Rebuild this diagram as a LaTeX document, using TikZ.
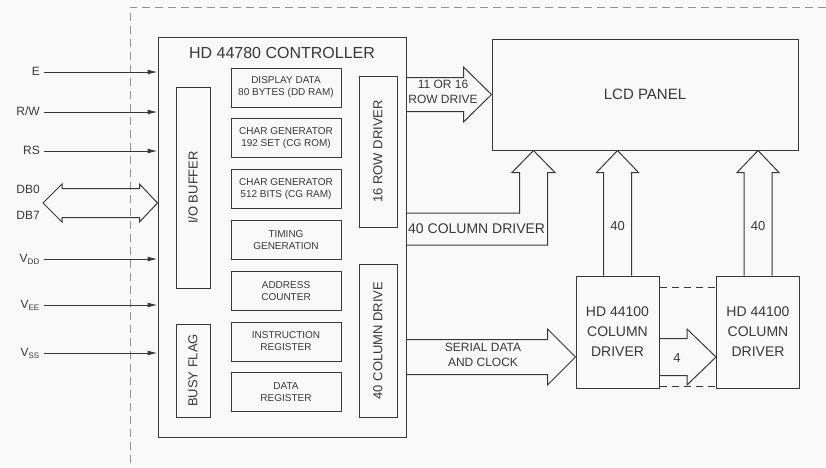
\documentclass[tikz,border=0pt]{standalone}
\usepackage{fontspec}
\setmainfont{Liberation Sans}
\usetikzlibrary{calc,arrows.meta}
\definecolor{ink}{gray}{0.22}
\definecolor{paper}{gray}{0.975}
\tikzset{
  blk/.style={draw=ink,line width=1pt,rectangle,minimum width=110pt,minimum height=39pt,inner sep=0pt,align=center,font=\fontsize{10}{12}\selectfont},
  vblk/.style={draw=ink,line width=1pt,rectangle,rotate=90,inner sep=0pt,font=\fontsize{13}{15}\selectfont},
  drv/.style={draw=ink,line width=1pt,rectangle,minimum width=83pt,minimum height=112pt,inner sep=0pt,align=center,font=\fontsize{14}{20}\selectfont},
  sig/.style={anchor=east,inner sep=0pt,text height=9pt,text depth=2pt,font=\fontsize{12}{14}\selectfont},
  sigarrow/.style={draw=ink,line width=1pt,-{Latex[length=10pt,width=5pt]}},
  fat/.style={draw=ink,line width=1pt,line join=miter},
  lbl/.style={inner sep=0pt,align=center,text=ink}
}
\begin{document}
\begin{tikzpicture}[x=1pt,y=-1pt,every node/.style={text=ink}]
\fill[paper] (0,0) rectangle (826,467);
\useasboundingbox (0,0) rectangle (826,467);
% outer frame
\draw[ink!55,dash pattern=on 8pt off 5pt] (826,7) -- (130,7) -- (130,467);

% controller
\node[draw=ink,line width=1pt,minimum width=248pt,minimum height=400pt,inner sep=0pt] (ctrl) at (282,237) {};
\node[lbl,font=\fontsize{16}{18}\selectfont] (ctrltitle) at (282,53) {HD 44780 CONTROLLER};

\node[blk] (ddram) at (286,87.5) {DISPLAY DATA\\80 BYTES (DD RAM)};
\node[blk] (cgrom) at (286,138.3) {CHAR GENERATOR\\192 SET (CG ROM)};
\node[blk] (cgram) at (286,189.1) {CHAR GENERATOR\\512 BITS (CG RAM)};
\node[blk] (timing) at (286,239.9) {TIMING\\GENERATION};
\node[blk] (addr) at (286,290.7) {ADDRESS\\COUNTER};
\node[blk] (instr) at (286,341.5) {INSTRUCTION\\REGISTER};
\node[blk] (datareg) at (286,392.3) {DATA\\REGISTER};

\node[vblk,minimum width=201pt,minimum height=34pt] (iobuf) at (193,187.5) {I/O BUFFER};
\node[vblk,minimum width=93pt,minimum height=34pt] (busy) at (193,370.5) {BUSY FLAG};
\node[vblk,minimum width=151pt,minimum height=38pt] (rowdrv) at (378,151.5) {16 ROW DRIVER};
\node[vblk,minimum width=153pt,minimum height=38pt] (coldrv) at (378,340.5) {40 COLUMN DRIVE};

% panel and column drivers
\node[draw=ink,line width=1pt,minimum width=306pt,minimum height=111pt,font=\fontsize{15}{17}\selectfont] (lcd) at (645,94.5) {LCD PANEL};
\node[drv] (hdA) at (617.5,332) {HD 44100\\COLUMN\\DRIVER};
\node[drv] (hdB) at (758,332) {HD 44100\\COLUMN\\DRIVER};

% pins
\node[sig] (e) at (40,72) {E};
\node[sig] (rw) at (40,112) {R/W};
\node[sig] (rs) at (40,151) {RS};
\node[sig] (db0) at (40,190) {DB0};
\node[sig] (db7) at (40,216) {DB7};
\node[sig] (vdd) at (40,259) {V\textsubscript{DD}};
\node[sig] (vee) at (40,305) {V\textsubscript{EE}};
\node[sig] (vss) at (40,353) {V\textsubscript{SS}};
\foreach \s in {e,rw,rs,vdd,vee,vss}
  \draw[sigarrow] ($(\s.east)+(4,0)$) -- (\s.east -| ctrl.west);

% data bus
\coordinate (dbtip) at ($(db0.east)!0.5!(db7.east)+(3,0)$);
\draw[fat] (dbtip) -- ++(19,-19) -- ++(0,4.5) -- ($(dbtip -| ctrl.west)+(-18,-14.5)$) -- ++(0,-4.5)
  -- (dbtip -| ctrl.west) -- ++(-18,19) -- ++(0,-4.5) -- ($(dbtip)+(19,14.5)$) -- ++(0,4.5) -- cycle;

% row drive
\draw[fat] ($(ctrl.east |- lcd.west)+(0,-17)$) -- ($(lcd.west)+(-28,-17)$) -- ++(0,-10.5) -- (lcd.west)
  -- ($(lcd.west)+(-28,27.5)$) -- ++(0,-10.5) -- ($(ctrl.east |- lcd.west)+(0,17)$);
\node[lbl,font=\fontsize{12}{15}\selectfont] (rowlbl) at (443,91.5) {11 OR 16\\ROW DRIVE};

% column drive to panel
\coordinate (ctip) at ($(lcd.south west)+(42,0)$);
\node[lbl,anchor=west,font=\fontsize{14}{16}\selectfont] (collbl) at (408,229) {40 COLUMN DRIVER};
\draw[fat] ($(ctrl.east |- collbl)+(0,-16)$) -| ($(ctip)+(-14,22)$) -- ++(-7.5,0) -- (ctip)
  -- ($(ctip)+(21.5,22)$) -- ++(-7.5,0) |- ($(ctrl.east |- collbl)+(0,16)$);

% drivers to panel
\foreach \d in {hdA,hdB}{
  \draw[fat] ($(\d.north)+(-14,0)$) -- ($(\d.north |- lcd.south)+(-14,22)$) -- ++(-7,0) -- (\d.north |- lcd.south)
    -- ($(\d.north |- lcd.south)+(21,22)$) -- ++(-7,0) -- ($(\d.north)+(14,0)$);
  \node[lbl,font=\fontsize{13}{15}\selectfont] (\d-lbl) at ($(\d.north)+(0,-49)$) {40};
}

% serial data
\coordinate (stip) at ($(hdA.west)+(0,25)$);
\draw[fat] ($(ctrl.east |- stip)+(0,-17.5)$) -- ($(stip)+(-28,-17.5)$) -- ++(0,-10.5) -- (stip)
  -- ($(stip)+(-28,28)$) -- ++(0,-10.5) -- ($(ctrl.east |- stip)+(0,17.5)$);
\node[lbl,font=\fontsize{12}{15}\selectfont] (serlbl) at (483,354.5) {SERIAL DATA\\AND CLOCK};

% driver to driver
\coordinate (ftip) at ($(hdB.west)+(0,25)$);
\draw[fat] ($(hdA.east |- ftip)+(0,-18.5)$) -- ($(ftip)+(-29,-18.5)$) -- ++(0,-9.5) -- (ftip)
  -- ($(ftip)+(-29,28)$) -- ++(0,-9.5) -- ($(hdA.east |- ftip)+(0,18.5)$);
\node[lbl,font=\fontsize{13}{15}\selectfont] (four) at (677,358) {4};

\draw[ink,line width=1pt,dash pattern=on 7pt off 5pt] ($(hdA.north east)+(0,12)$) -- ($(hdB.north west)+(0,12)$);
\draw[ink,line width=1pt,dash pattern=on 7pt off 5pt] ($(hdA.south east)+(0,-2)$) -- ($(hdB.south west)+(0,-2)$);
\end{tikzpicture}
\end{document}
